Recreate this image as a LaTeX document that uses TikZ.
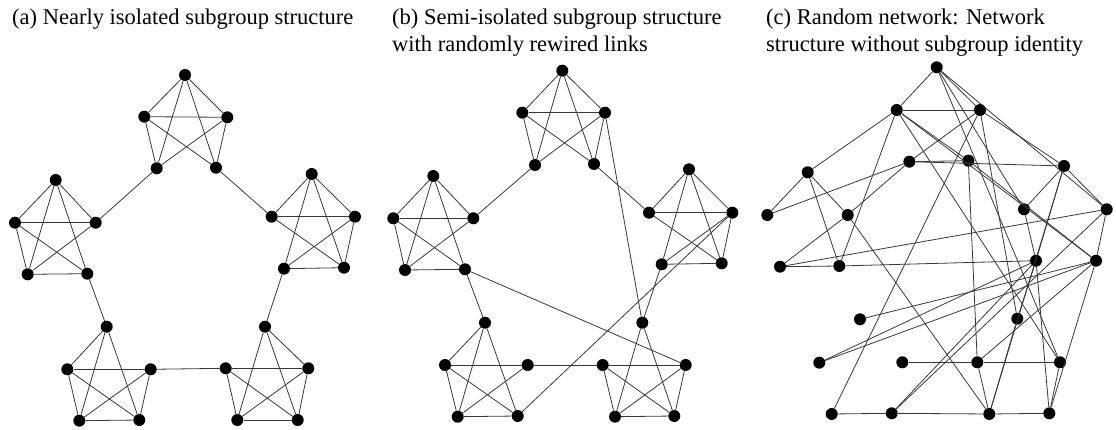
\documentclass[tikz,border=0pt]{standalone}
\usepackage{fontspec}
\setmainfont{Liberation Serif}
\newfontfamily\titlefont{Liberation Serif}
\begin{document}
\begin{tikzpicture}[x=1pt,y=-1pt,
  vtx/.style={circle,fill=black,inner sep=0pt,minimum size=12pt},
  edge/.style={draw=black!78,line width=0.8pt},
  ttl/.style={anchor=base west,inner sep=0pt,font=\titlefont\fontsize{22.5}{27}\selectfont}]
\useasboundingbox (0,0) rectangle (1116,430);
% titles
\node[ttl] (ta) at (12,25) {(a) Nearly isolated subgroup structure};
\node[ttl] (tb1) at (392,25) {(b) Semi-isolated subgroup structure};
\node[ttl] (tb2) at (392,52) {with randomly rewired links};
\node[ttl] (tc1) at (766,25) {(c) Random network: Network};
\node[ttl] (tc2) at (766,52) {structure without subgroup identity};

% ---------- panel (a)
\foreach \n/\x/\y in {
 At/185/75, Al/144.3/116.7, Ar/227.3/117.3, Abl/156.7/168.3, Abr/216/167.7,
 Bt/55.7/180, Bl/15/222.7, Br/95.7/222.7, Bbl/27.7/274.3, Bbr/87.3/273.7,
 Ct/311.7/174, Cl/271.7/216.7, Cr/355/216.7, Cbl/284/268.7, Cbr/344/267.7,
 Dt/106.7/326.7, Dl/67.3/369.3, Dr/150.7/369.3, Dbl/79.3/420.7, Dbr/139.3/420,
 Et/265/326.7, El/225.7/368.3, Er/308.3/368.3, Ebl/237.3/420, Ebr/297.7/420}
 \node[vtx] (a\n) at (\x,\y) {};
\foreach \u/\v in {t/l,t/r,t/bl,t/br,l/r,l/bl,l/br,r/bl,r/br} \draw[edge] (aA\u) -- (aA\v);
\foreach \u/\v in {t/l,t/r,t/bl,t/br,l/r,l/bl,l/br,r/bl,bl/br} \draw[edge] (aB\u) -- (aB\v);
\foreach \u/\v in {t/l,t/r,t/bl,t/br,l/r,l/br,r/bl,r/br,bl/br} \draw[edge] (aC\u) -- (aC\v);
\foreach \u/\v in {t/l,t/bl,t/br,l/r,l/bl,l/br,r/bl,r/br,bl/br} \draw[edge] (aD\u) -- (aD\v);
\foreach \u/\v in {t/r,t/bl,t/br,l/r,l/bl,l/br,r/bl,r/br,bl/br} \draw[edge] (aE\u) -- (aE\v);
\foreach \u/\v in {Abl/Br,Abr/Cl,Bbr/Dt,Cbl/Et,Dr/El} \draw[edge] (a\u) -- (a\v);

% ---------- panel (b)
\foreach \n/\x/\y in {
 At/562.3/70.7, Al/522.3/112.7, Ar/605/112.7, Abl/535/165, Abr/594/164,
 Bt/433.3/176, Bl/393.3/218.3, Br/473.3/218.3, Bbl/405/270, Bbr/465/269.3,
 Ct/689/169.3, Cl/649/212.7, Cr/732.3/212.7, Cbl/661.7/264.3, Cbr/721.7/263.3,
 Dt/485/322.7, Dl/445/365, Dr/527.7/365, Dbl/457.7/416.7, Dbr/517.7/416,
 Et/642.3/322.7, El/602.7/365, Er/685.7/365, Ebl/615/416.7, Ebr/674.3/416}
 \node[vtx] (b\n) at (\x,\y) {};
\foreach \u/\v in {t/l,t/r,t/bl,t/br,l/r,l/bl,l/br,r/bl,r/br} \draw[edge] (bA\u) -- (bA\v);
\foreach \u/\v in {t/l,t/r,t/bl,t/br,l/r,l/bl,l/br,r/bl,bl/br} \draw[edge] (bB\u) -- (bB\v);
\foreach \u/\v in {t/l,t/r,t/bl,t/br,l/r,l/br,r/bl,r/br,bl/br} \draw[edge] (bC\u) -- (bC\v);
\foreach \u/\v in {t/l,t/bl,t/br,l/r,l/bl,l/br,r/bl,bl/br} \draw[edge] (bD\u) -- (bD\v);
\foreach \u/\v in {t/bl,t/br,l/r,l/bl,l/br,r/bl,r/br,bl/br} \draw[edge] (bE\u) -- (bE\v);
\foreach \u/\v in {Abl/Br,Abr/Cl,Bbr/Dt,Cbl/Et,Dr/El,Ar/Et,Bbr/Er,Dbr/Cr} \draw[edge] (b\u) -- (b\v);

% ---------- panel (c)
\foreach \n/\x/\y in {
 1/936.7/67.3, 2/896.7/110, 3/980/110, 4/909.3/161.7, 5/968.3/160.7,
 6/1064/166, 7/807.7/172.3, 8/767.3/215, 9/847.7/215, 10/1024/209.3,
 11/1106.7/209.3, 12/780/266.7, 13/839.3/266, 14/1036/260.7, 15/1096/260.7,
 16/860/319.3, 17/1017.3/318.7, 18/819.3/362.7, 19/902.3/362.3, 20/977.3/362.3,
 21/1060/362.3, 22/831.7/414, 23/891.7/413.3, 24/989.3/414, 25/1049.3/413.3}
 \node[vtx] (c\n) at (\x,\y) {};
\foreach \u/\v in {1/2,1/3,1/10,1/11,1/21,
  2/3,2/5,2/15,2/7,2/13,2/21,
  3/4,3/22,3/6,3/17,
  4/5,4/6,4/8,4/9,
  5/15,5/20,
  6/10,6/11,6/14,6/24,
  7/8,7/9,7/13,
  9/12,9/24,
  10/14,
  11/12,11/15,11/23,
  12/13,13/14,
  15/16,14/18,15/18,14/23,14/17,14/25,
  15/20,15/25,
  17/24,
  19/20,20/21,20/24,21/25,
  22/23,23/24,24/25}
  \draw[edge] (c\u) -- (c\v);
\end{tikzpicture}
\end{document}
